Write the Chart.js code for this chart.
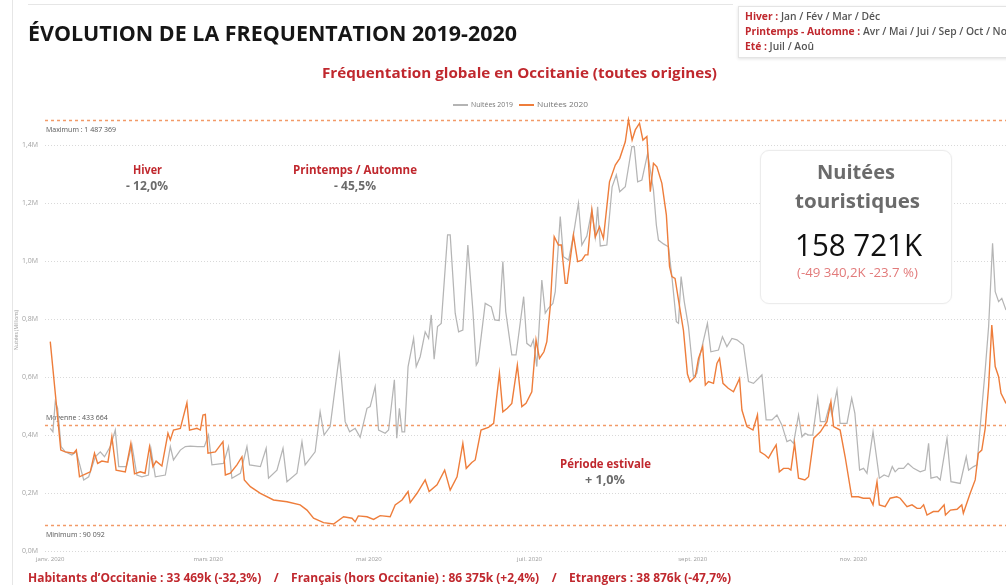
<!DOCTYPE html>
<html lang="fr">
<head>
<meta charset="utf-8">
<script src="https://cdn.jsdelivr.net/npm/chart.js@4.4.1/dist/chart.umd.min.js"></script>
<style>
  html, body { margin:0; padding:0; background:#fff; }
  body { width:1006px; height:585px; overflow:hidden; position:relative; font-family:"Open Sans", "Noto Sans", sans-serif; }
  #c { position:absolute; left:0; top:0; }
  .t { position:absolute; white-space:nowrap; transform-origin:left center; }
  .red { color:#c0282e; }
  .grey { color:#6b6b6b; }
</style>
</head>
<body>
<canvas id="c" width="1006" height="585"></canvas>

<div style="position:absolute;left:12px;top:0;width:1px;height:585px;background:#e6e6e6"></div>
<div style="position:absolute;left:28px;top:4px;width:705px;height:1px;background:#e6e6e6"></div>

<div id="title" class="t" style="left:28px;top:18px;font-size:22px;line-height:28px;font-weight:700;color:#161616">ÉVOLUTION DE LA FREQUENTATION 2019-2020</div>

<div style="position:absolute;left:738px;top:6px;width:290px;height:50px;background:#fff;border:1px solid #e4e4e4;box-shadow:0 1px 3px rgba(0,0,0,0.12)"></div>
<div id="s1" class="t" style="left:745px;top:9px;font-size:10px;line-height:14px;font-weight:600;color:#555"><span class="red" style="font-weight:700">Hiver :</span> Jan / Fév / Mar / Déc</div>
<div id="s2" class="t" style="left:745px;top:24px;font-size:10px;line-height:14px;font-weight:600;color:#555"><span class="red" style="font-weight:700">Printemps - Automne :</span> Avr / Mai / Jui / Sep / Oct / Nov</div>
<div id="s3" class="t" style="left:745px;top:39px;font-size:10px;line-height:14px;font-weight:600;color:#555"><span class="red" style="font-weight:700">Eté :</span> Juil / Aoû</div>

<div id="sub" class="t red" style="left:322px;top:62px;font-size:15px;line-height:20px;font-weight:700">Fréquentation globale en Occitanie (toutes origines)</div>

<div style="position:absolute;left:453px;top:104px;width:15px;height:2px;background:#b4b4b4"></div>
<div id="l1" class="t" style="left:471px;top:100px;font-size:7px;line-height:10px;color:#777">Nuitées 2019</div>
<div style="position:absolute;left:519px;top:104px;width:15px;height:2px;background:#ee7d3b"></div>
<div id="l2" class="t" style="left:537px;top:100px;font-size:7px;line-height:10px;color:#777">Nuitées 2020</div>

<div id="ytitle" style="position:absolute;left:16px;top:330px;transform:translate(-50%,-50%) rotate(-90deg);font-size:5px;color:#999;white-space:nowrap">Nuitées (Millions)</div>

<div id="a1" class="t red" style="left:133px;top:162px;font-size:12px;line-height:16px;font-weight:700">Hiver</div>
<div id="a2" class="t grey" style="left:126px;top:178px;font-size:12px;line-height:16px;font-weight:700">- 12,0%</div>
<div id="a3" class="t red" style="left:293px;top:162px;font-size:12px;line-height:16px;font-weight:700">Printemps / Automne</div>
<div id="a4" class="t grey" style="left:334px;top:178px;font-size:12px;line-height:16px;font-weight:700">- 45,5%</div>
<div id="a5" class="t red" style="left:560px;top:456px;font-size:12px;line-height:16px;font-weight:700">Période estivale</div>
<div id="a6" class="t grey" style="left:585px;top:472px;font-size:12px;line-height:16px;font-weight:700">+ 1,0%</div>

<div style="position:absolute;left:760px;top:150px;width:190px;height:152px;background:#fff;border:1px solid #ececec;border-radius:9px;box-shadow:0 0 2px rgba(0,0,0,0.05)"></div>
<div id="k1" class="t" style="left:817px;top:160px;font-size:20px;line-height:24px;font-weight:700;color:#6b6b6b">Nuitées</div>
<div id="k2" class="t" style="left:795px;top:189px;font-size:20px;line-height:24px;font-weight:700;color:#6b6b6b">touristiques</div>
<div id="k3" class="t" style="left:795px;top:226px;font-size:31px;line-height:36px;font-weight:400;color:#111">158 721K</div>
<div id="k4" class="t" style="left:797px;top:265px;font-size:12px;line-height:16px;color:#e27a7a">(-49 340,2K -23.7 %)</div>

<div id="bot" class="t red" style="left:28px;top:569px;font-size:13px;line-height:17px;font-weight:700">Habitants d’Occitanie : 33 469k (-32,3%)&nbsp;&nbsp;&nbsp;&nbsp;/&nbsp;&nbsp;&nbsp;&nbsp;Français (hors Occitanie) : 86 375k (+2,4%)&nbsp;&nbsp;&nbsp;&nbsp;/&nbsp;&nbsp;&nbsp;&nbsp;Etrangers : 38 876k (-47,7%)</div>

<script>
// ---------- DATA (day index from 1 Jan 2020, value in millions of nights) ----------
const days2019 = [0,1,1.9,2.8,4.1,5.7,8.2,9.9,12.7,14.6,17.1,19,20.6,22.8,24.7,26,28.9,31,32.9,34.8,37.3,38.2,39.9,43.7,45.6,46.8,49.4,51.3,53.2,56,58.5,60.1,61.4,65.8,67.7,69,72.2,74.7,75.7,79.8,82,82.9,86.1,88.4,89.9,93.7,95.6,96.8,100.6,102.5,104,106.3,109.8,112,113.7,115.8,117.7,120.3,121.5,123.4,124.7,127.2,128.5,130.7,131.6,132.6,133.6,134.6,135.9,138,139,140.5,142.4,143.7,144.7,145.8,147.1,148.5,150.9,151.9,153.8,155.1,156.7,158.6,160.5,161.8,162.5,165.2,167.5,168.8,170.5,171.9,173,175.3,176.9,179.8,181,182.5,183.5,184.8,186.7,188,189.2,190.9,191.8,193.7,194.9,196.9,198.7,200.6,201.9,203.8,205.7,207,207.9,208.9,211.4,213.4,215,216.3,218.4,220.9,221.8,223.1,224.7,226.9,229.1,230.2,231,232.9,234.8,236.1,237.8,238.6,239.6,240.8,242.4,244.3,245.6,246.9,249.6,250.9,253.8,255.3,257,258.9,260.8,263.3,265.2,267.1,270.3,271.9,274.1,276,277.9,279.8,281.1,282.3,284.2,285.5,286.7,288,289.6,291.5,292.5,294.3,296,296.9,298.8,300,302.6,304.4,305.6,307.4,308.9,310.2,312.5,313.8,314.9,316.7,318.4,319.8,320.9,322.2,324.1,325.8,327.9,330.4,332.3,333.6,334.5,336.8,338,340.6,342.1,345.6,347.9,348.8,350.7,352,353.2,355.1,356.4,357.9,358.9,360.2,361.4,363];
const nuitees2019 = [0.423,0.411,0.515,0.492,0.36,0.342,0.331,0.342,0.245,0.256,0.325,0.342,0.325,0.36,0.417,0.291,0.291,0.366,0.262,0.256,0.262,0.354,0.256,0.262,0.36,0.314,0.348,0.36,0.362,0.36,0.36,0.4,0.297,0.302,0.36,0.251,0.268,0.36,0.297,0.291,0.354,0.251,0.279,0.354,0.239,0.268,0.377,0.297,0.342,0.48,0.4,0.429,0.676,0.446,0.411,0.423,0.392,0.492,0.498,0.567,0.417,0.406,0.417,0.59,0.389,0.492,0.411,0.411,0.636,0.733,0.636,0.67,0.756,0.733,0.814,0.661,0.774,0.785,1.09,1.09,0.82,0.756,0.762,1.055,0.831,0.641,0.652,0.854,0.842,0.797,0.795,0.998,0.825,0.676,0.676,0.877,0.716,0.705,0.728,0.636,0.934,0.82,0.837,0.854,0.894,1.153,1.015,1.003,1.09,1.199,1.055,1.086,1.176,1.083,1.187,1.052,1.055,1.256,1.297,1.239,1.256,1.394,1.394,1.273,1.279,1.371,1.245,1.124,1.072,1.059,1.049,0.946,0.791,0.785,0.946,0.86,0.774,0.601,0.613,0.68,0.785,0.687,0.693,0.739,0.705,0.733,0.728,0.71,0.584,0.578,0.607,0.452,0.452,0.469,0.434,0.377,0.383,0.371,0.469,0.394,0.406,0.4,0.4,0.527,0.446,0.446,0.503,0.469,0.555,0.44,0.44,0.527,0.475,0.279,0.285,0.268,0.411,0.325,0.251,0.262,0.256,0.291,0.273,0.285,0.285,0.302,0.285,0.273,0.279,0.371,0.251,0.256,0.245,0.389,0.239,0.233,0.325,0.279,0.291,0.297,0.429,0.624,0.774,1.061,0.894,0.86,0.871,0.831];

const days2020 = [0,4,5.7,8.9,9.9,11.1,13.9,15.2,16.8,18,19.6,21.9,23.4,25,28.5,30.6,32,34.2,36,37.7,39,40.2,42.4,44.7,45.6,46.8,49.4,51.9,52.9,55.7,57,58,58.9,59.9,62.7,65.6,66.5,68.4,70.9,72.8,73.7,76,79.8,84.8,89.9,94.9,97.5,100,103.8,107.6,111.4,114.6,115.8,117,120.3,122.8,125.3,129.1,131,133.6,135.9,136.7,139.3,142.4,143.9,146.9,149.8,151.9,154.5,156.7,158,160.1,161.4,163.6,166.4,168.4,170.6,171.9,173.6,175.3,177.4,179.1,180.7,182.9,184.5,185.8,187.5,188.6,189.9,191.4,193,194.1,195.6,196.3,198.7,200.3,201.9,203.2,204.2,205.7,207,208.6,210.1,212.4,214.6,216.3,218.4,219.6,221,222.2,223.8,225.1,226.6,227.9,229.1,230.4,232.3,234,235.2,236.1,237.3,238.6,240.5,242,243,245,246.2,247.8,248.8,250,251.9,253.2,254.2,255.5,257.5,259.5,261.8,262.7,264.6,266.9,268.6,269.6,271.5,272.8,274.1,275.7,276.9,278.5,280.4,281.3,282.7,284.2,286.6,288,290,292.5,295,296.5,297.5,300,301.9,304.4,306.9,308.8,311.3,312.5,314,314.9,317.1,319,321.5,322.8,325.4,327.3,329.2,330.5,331.7,333,335.4,337.3,339.5,340,341.9,344.4,346.2,346.8,349.4,351.3,352.5,353.8,355.1,356.4,357.6,358.9,360.2,361.1,363];
const nuitees2020 = [0.722,0.348,0.342,0.337,0.348,0.256,0.268,0.273,0.337,0.302,0.31,0.306,0.394,0.279,0.273,0.371,0.266,0.273,0.268,0.36,0.291,0.31,0.293,0.406,0.383,0.417,0.423,0.511,0.417,0.423,0.417,0.469,0.471,0.337,0.342,0.377,0.262,0.268,0.297,0.325,0.245,0.222,0.199,0.176,0.17,0.159,0.141,0.113,0.098,0.093,0.118,0.113,0.101,0.121,0.118,0.109,0.122,0.118,0.159,0.176,0.205,0.167,0.199,0.245,0.205,0.228,0.279,0.21,0.256,0.371,0.285,0.305,0.314,0.417,0.426,0.44,0.613,0.48,0.492,0.509,0.641,0.498,0.509,0.549,0.728,0.664,0.687,0.722,0.842,1.084,1.055,1.055,0.923,0.923,1.09,0.998,1.003,1.021,1.021,1.176,1.083,1.118,1.078,1.273,1.331,1.354,1.411,1.487,1.417,1.452,1.475,1.417,1.429,1.239,1.337,1.325,1.268,1.159,0.981,0.946,0.94,0.866,0.76,0.61,0.584,0.601,0.664,0.705,0.572,0.584,0.578,0.647,0.664,0.578,0.561,0.549,0.595,0.486,0.429,0.417,0.469,0.342,0.331,0.32,0.342,0.366,0.273,0.285,0.285,0.279,0.371,0.251,0.245,0.256,0.389,0.411,0.446,0.515,0.429,0.417,0.325,0.187,0.187,0.182,0.182,0.159,0.239,0.159,0.153,0.182,0.187,0.182,0.153,0.159,0.147,0.147,0.159,0.124,0.136,0.136,0.159,0.124,0.141,0.144,0.159,0.13,0.199,0.245,0.337,0.348,0.423,0.567,0.779,0.636,0.601,0.544,0.509];

const yTicks = [0, 0.2, 0.4, 0.6, 0.8, 1.0, 1.2, 1.4];
const monthTickDays = [0, 60, 121, 182, 244, 305];
const monthTickLabels = ['janv. 2020', 'mars 2020', 'mai 2020', 'juil. 2020', 'sept. 2020', 'nov. 2020'];

const refValues = [1.487369, 0.433664, 0.090092];
const refLabels = ['Maximum : 1 487 369', 'Moyenne : 433 664', 'Minimum : 90 092'];
const refLabelAbove = [false, true, false];

// ---------- CHART ----------
const toPoints = (xs, ys) => xs.map((x, i) => ({ x: x, y: ys[i] }));

const refLinesPlugin = {
  id: 'refLines',
  beforeDatasetsDraw(chart) {
    const { ctx, chartArea, scales } = chart;
    ctx.save();
    refValues.forEach((v, i) => {
      const y = Math.round(scales.y.getPixelForValue(v)) + 0.5;
      ctx.strokeStyle = '#f29a68';
      ctx.lineWidth = 1.5;
      ctx.setLineDash([3, 3]);
      ctx.beginPath();
      ctx.moveTo(chartArea.left, y);
      ctx.lineTo(chartArea.right, y);
      ctx.stroke();
      ctx.setLineDash([]);
      ctx.fillStyle = '#555';
      ctx.font = '7px "Open Sans"';
      ctx.textAlign = 'left';
      ctx.textBaseline = 'middle';
      ctx.fillText(refLabels[i], chartArea.left + 1, refLabelAbove[i] ? y - 8 : y + 9);
    });
    ctx.restore();
  }
};

new Chart(document.getElementById('c'), {
  type: 'line',
  data: {
    datasets: [
      { label: 'Nuitées 2019', data: toPoints(days2019, nuitees2019), borderColor: '#b5b5b5', borderWidth: 1.25, pointRadius: 0, tension: 0, order: 2 },
      { label: 'Nuitées 2020', data: toPoints(days2020, nuitees2020), borderColor: '#ee7d3b', borderWidth: 1.4, pointRadius: 0, tension: 0, order: 1 }
    ]
  },
  options: {
    responsive: false,
    animation: false,
    events: [],
    layout: { padding: { left: 0, right: 0, top: 116, bottom: 16 } },
    plugins: { legend: { display: false }, tooltip: { enabled: false }, title: { display: false } },
    scales: {
      x: {
        type: 'linear', min: -2, max: 363,
        grid: { display: false, drawTicks: false }, border: { display: false },
        afterBuildTicks: s => { s.ticks = monthTickDays.map(v => ({ value: v })); },
        afterFit: s => { s.height = 18; },
        ticks: { autoSkip: false, maxRotation: 0, padding: 5, color: '#9a9a9a', font: { size: 6, family: 'Open Sans' },
                 callback: v => monthTickLabels[monthTickDays.indexOf(v)] }
      },
      y: {
        min: 0, max: 1.5,
        afterBuildTicks: s => { s.ticks = yTicks.map(v => ({ value: v })); },
        afterFit: s => { s.width = 45; },
        grid: { color: '#d9d9d9', lineWidth: 1, drawTicks: false },
        border: { display: false, dash: [1, 2] },
        ticks: { padding: 7, color: '#a3a3a3', font: { size: 7, family: 'Open Sans' },
                 callback: v => v.toFixed(1).replace('.', ',') + 'M' }
      }
    }
  },
  plugins: [refLinesPlugin]
});

// ---------- fit texts horizontally ----------
function fit(id, w) {
  const el = document.getElementById(id);
  el.style.transform = '';
  const r = el.getBoundingClientRect().width;
  el.style.transform = 'scaleX(' + (w / r) + ')';
  return w / r;
}
fit('title', 489);
const k = fit('s1', 135);
['s2', 's3'].forEach(id => { document.getElementById(id).style.transform = 'scaleX(' + k + ')'; });
fit('sub', 395);
fit('l1', 42); fit('l2', 51);
fit('a1', 29); fit('a2', 42); fit('a3', 124); fit('a4', 42); fit('a5', 91); fit('a6', 40);
fit('k1', 78); fit('k2', 125); fit('k3', 127); fit('k4', 121);
fit('bot', 703);
</script>
</body>
</html>
